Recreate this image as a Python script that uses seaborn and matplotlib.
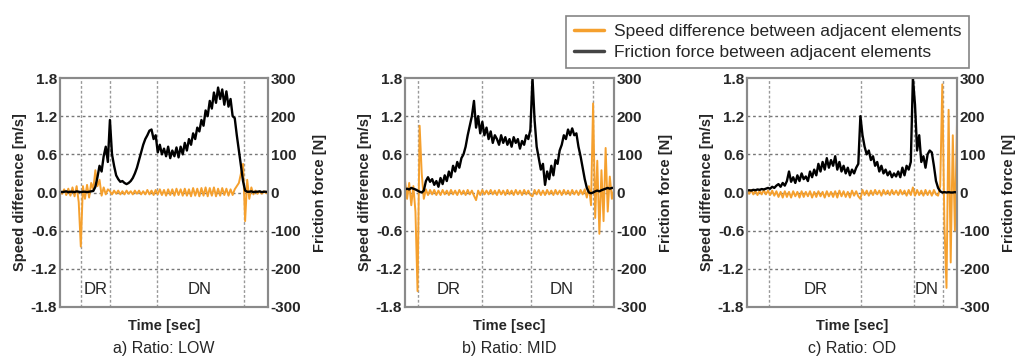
import numpy as np
import pandas as pd
import matplotlib.pyplot as plt
import seaborn as sns

# ---- data (time as % of run, 0..100) ----
time_pct = np.arange(0, 101)

# friction force [N]
force_low = [2, 1, 2, 3, 1, 2, 2, 1, 3, 2, 1, 2, 2, 1, 2, 3, 4, 15, 40, 70,
             55, 95, 120, 80, 190, 100, 70, 45, 35, 28, 30, 25, 22, 25, 30, 38, 50, 65, 85, 105,
             125, 140, 150, 162, 165, 140, 150, 105, 125, 100, 115, 95, 120, 90, 110, 95, 118, 92, 120, 100,
             130, 110, 140, 125, 155, 140, 170, 160, 190, 175, 215, 200, 240, 220, 262, 235, 275, 245, 270, 230,
             265, 225, 245, 200, 195, 150, 110, 70, 30, 5, 2, 2, 3, 1, 2, 2, 3, 1, 2, 2, 1]
force_mid = [8, 10, 8, 12, 10, 8, 5, 2, 0, 5, 30, 40, 28, 35, 20, 30, 15, 38, 22, 45,
             30, 55, 40, 70, 55, 80, 65, 90, 100, 120, 150, 175, 200, 240, 170, 200, 155, 185, 150, 170,
             140, 160, 130, 150, 140, 125, 150, 130, 145, 125, 140, 120, 145, 130, 140, 115, 135, 125, 150, 140,
             165, 300, 190, 120, 90, 60, 75, 20, 55, 35, 70, 45, 85, 75, 110, 125, 150, 140, 165, 150,
             168, 150, 155, 120, 95, 65, 35, 12, 0, -2, 0, 3, 5, 3, 6, 8, 10, 12, 10, 12, 12]
force_od = [5, 6, 5, 7, 6, 8, 7, 9, 8, 10, 12, 10, 15, 12, 18, 22, 15, 25, 18, 30,
            55, 28, 40, 25, 45, 30, 50, 35, 42, 30, 55, 40, 60, 45, 75, 55, 80, 60, 90, 65,
            85, 70, 95, 60, 80, 55, 70, 50, 65, 45, 60, 50, 65, 75, 200, 150, 120, 100, 110, 85,
            95, 70, 80, 55, 70, 50, 60, 45, 55, 40, 50, 42, 55, 40, 65, 45, 70, 60, 80, 300,
            230, 110, 150, 80, 95, 65, 100, 110, 105, 70, 30, 12, 3, 0, 1, 0, 1, 0, 0, 1, 0]

# speed difference [m/s]
speed_low = [0.03, -0.02, 0.05, -0.04, 0.06, -0.05, 0.08, -0.06, 0.10, -0.15,
             -0.85, 0.10, -0.10, 0.12, -0.08, 0.15, 0.05, 0.35, 0.10, 0.20,
             -0.05, 0.08, -0.03, 0.05, 0.02, -0.03, 0.03, -0.02, 0.03, -0.03,
             0.02, -0.03, 0.03, -0.02, 0.02, -0.03, 0.03, -0.02, 0.03, -0.03,
             0.02, -0.03, 0.04, -0.03, 0.03, -0.04, 0.04, -0.03, 0.05, -0.04,
             0.04, -0.05, 0.05, -0.04, 0.05, -0.05, 0.06, -0.04, 0.05, -0.05,
             0.06, -0.05, 0.05, -0.06, 0.07, -0.05, 0.06, -0.06, 0.07, -0.05,
             0.08, -0.06, 0.07, -0.05, 0.08, -0.06, 0.06, -0.05, 0.07, -0.04,
             0.06, -0.05, 0.05, -0.04, 0.05, 0.10, 0.15, 0.30, 0.45, -0.45,
             0.20, -0.10, 0.08, -0.03, 0.03, -0.02, 0.02, -0.02, 0.02, -0.01, 0.01]
speed_mid = [0.20, -0.10, 0.15, -0.20, 0.10, -0.30, -1.55, 1.05, 0.30, -0.10,
             0.05, -0.04, 0.04, -0.03, 0.04, -0.04, 0.03, -0.04, 0.04, -0.03,
             0.03, -0.04, 0.04, -0.03, 0.03, -0.04, 0.04, -0.03, 0.03, -0.04,
             0.04, -0.03, 0.03, -0.05, -0.12, 0.03, -0.04, 0.04, -0.03, 0.03,
             -0.03, 0.04, -0.03, 0.03, -0.04, 0.04, -0.03, 0.03, -0.04, 0.04,
             -0.03, 0.03, -0.04, 0.04, -0.03, 0.03, -0.04, 0.04, -0.03, 0.03,
             -0.04, -0.06, 0.04, -0.03, 0.04, -0.04, 0.03, -0.04, 0.04, -0.03,
             0.03, -0.04, 0.04, -0.03, 0.03, -0.04, 0.04, -0.03, 0.03, -0.04,
             0.04, -0.03, 0.03, -0.04, 0.04, -0.03, 0.05, -0.08, 0.10, -0.20,
             1.40, -0.40, 0.50, -0.65, 0.35, -0.45, 0.70, -0.30, 0.25, -0.10, 0.05]
speed_od = [0.03, -0.02, 0.04, -0.03, 0.03, -0.04, 0.03, -0.03, 0.04, -0.03,
            0.03, -0.04, 0.03, -0.05, 0.02, -0.07, 0.01, -0.08, 0.02, -0.07,
            0.01, -0.08, 0.02, -0.06, 0.01, -0.08, 0.02, -0.07, 0.01, -0.06,
            0.02, -0.08, 0.01, -0.07, 0.02, -0.06, 0.01, -0.08, 0.02, -0.06,
            0.01, -0.07, 0.02, -0.08, 0.03, -0.06, 0.02, -0.07, 0.01, -0.08,
            0.03, -0.05, 0.02, -0.06, -0.10, 0.04, -0.04, 0.03, -0.05, 0.03,
            -0.04, 0.04, -0.03, 0.03, -0.05, 0.04, -0.03, 0.03, -0.04, 0.04,
            -0.03, 0.03, -0.04, 0.04, -0.03, 0.03, -0.05, 0.04, -0.04, 0.08,
            -0.05, 0.04, -0.04, 0.03, -0.05, 0.04, -0.04, 0.03, -0.05, 0.04,
            -0.03, -0.05, 0.10, 1.70, -0.50, -1.50, 1.30, -1.10, 0.90, -0.60, 1.10]

panel_titles = ['a) Ratio: LOW', 'b) Ratio: MID', 'c) Ratio: OD']
phase_lines = [[10, 24, 46.7, 88.5], [6, 36.7, 60.3, 90], [10.3, 54.4, 79.4, 93.3]]
phase_labels = [[('DR', 17), ('DN', 67)], [('DR', 21), ('DN', 75)], [('DR', 32.5), ('DN', 85.7)]]

speed_ticks = [-1.8, -1.2, -0.6, 0.0, 0.6, 1.2, 1.8]
force_ticks = [-300, -200, -100, 0, 100, 200, 300]

sns.set_theme(style='white')
plt.rcParams['font.family'] = ['Liberation Sans', 'DejaVu Sans']
plt.rcParams['axes.unicode_minus'] = False

ORANGE = '#F5A02E'
W, H = 1022, 361
fig = plt.figure(figsize=(W / 100, H / 100), dpi=100)

# axes boxes in pixels: left, top, right, bottom
boxes = [(60, 78, 268, 307), (405, 78, 614, 307), (747, 78, 957, 307)]
speeds = [speed_low, speed_mid, speed_od]
forces = [force_low, force_mid, force_od]

for k in range(3):
    l, t, r, b = boxes[k]
    ax = fig.add_axes([l / W, 1 - b / H, (r - l) / W, (b - t) / H])
    df = pd.DataFrame({'t': time_pct, 'speed': speeds[k], 'force': forces[k]})

    sns.lineplot(data=df, x='t', y='speed', ax=ax, color=ORANGE, lw=1.4)
    ax.set_xlim(0, 100)
    ax.set_ylim(-1.8, 1.8)
    ax.set_yticks(speed_ticks)
    ax.set_yticklabels(['%.1f' % v for v in speed_ticks])
    ax.set_xticks([])
    ax.set_xlabel('')
    ax.set_ylabel('Speed difference [m/s]', fontsize=10.5, fontweight='bold', labelpad=3)
    for v in speed_ticks[1:-1]:
        ax.axhline(v, color='#777777', lw=1.0, ls=(0, (2, 2)), zorder=0)
    for v in phase_lines[k]:
        ax.axvline(v, color='#999999', lw=1.0, ls=(0, (2, 1.5)), zorder=0)
    for lab, xp in phase_labels[k]:
        ax.text(xp, -1.52, lab, ha='center', va='center', fontsize=12)

    ax2 = ax.twinx()
    sns.lineplot(data=df, x='t', y='force', ax=ax2, color='black', lw=1.7)
    ax2.set_ylim(-300, 300)
    ax2.set_yticks(force_ticks)
    ax2.set_ylabel('Friction force [N]', fontsize=10.5, fontweight='bold', labelpad=8)
    ax2.set_xlabel('')

    for a in (ax, ax2):
        a.tick_params(axis='y', labelsize=11, pad=2, length=0)
        for lbl in a.get_yticklabels():
            lbl.set_fontweight('bold')
        for s in a.spines.values():
            s.set_color('#8a8a8a')
            s.set_linewidth(1.5)

    cx = (l + r) / 2 / W
    fig.text(cx, 1 - 326 / H, 'Time [sec]', ha='center', va='center', fontsize=10.5, fontweight='bold')
    fig.text(cx, 1 - 349 / H, panel_titles[k], ha='center', va='center', fontsize=11.5)

handles = [plt.Line2D([], [], color=ORANGE, lw=2.5),
           plt.Line2D([], [], color='#444444', lw=2.5)]
leg = fig.legend(handles, ['Speed difference between adjacent elements',
                           'Friction force between adjacent elements'],
                 loc='upper right', bbox_to_anchor=(978 / W, 1 - 7 / H),
                 fontsize=12.5, frameon=True, fancybox=False, handlelength=1.7,
                 handletextpad=0.6, borderpad=0.45, labelspacing=0.35)
leg.get_frame().set_edgecolor('#666666')
leg.get_frame().set_linewidth(1.2)

fig.savefig('out.png', dpi=100)
